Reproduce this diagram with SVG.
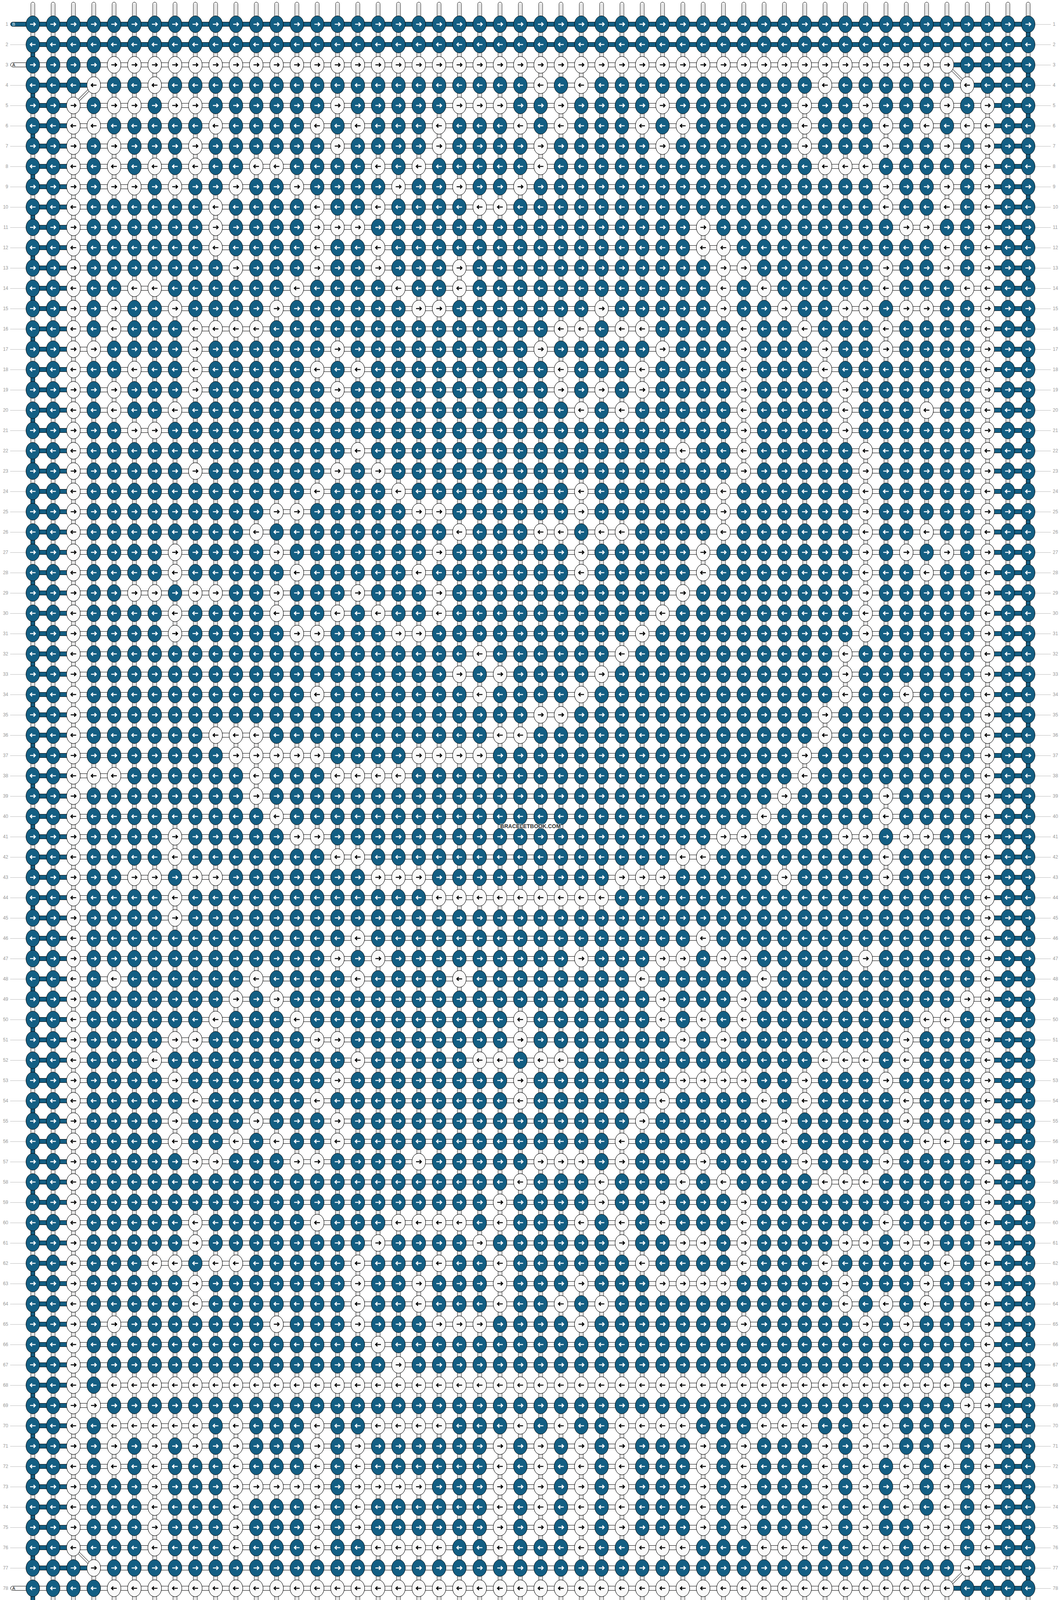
<svg xmlns="http://www.w3.org/2000/svg" width="2716" height="4180" viewBox="0 0 2716 4180">
<style>
.d{fill:#135e83;stroke:#000;stroke-width:1}
.w{fill:#fafafa;stroke:#000;stroke-width:1}
.aw{fill:none;stroke:#fff;stroke-width:2.6}
.ab{fill:none;stroke:#000;stroke-width:2.6}
.lb{font-family:"Liberation Sans",Arial,sans-serif;font-size:12px;fill:#999}
.pt{font-family:"Liberation Sans",Arial,sans-serif;font-size:11px}
</style>
<defs>
<g id="R"><ellipse rx="17.5" ry="21.5" class="w"/><path class="ab" d="M-7 0H6M2 -4.5L6.5 0L2 4.5"/></g>
<g id="L"><ellipse rx="17.5" ry="21.5" class="w"/><path class="ab" d="M7 0H-6M-2 -4.5L-6.5 0L-2 4.5"/></g>
<g id="DR"><ellipse rx="17.5" ry="21.5" class="d"/><path class="aw" d="M-7 0H6M2 -4.5L6.5 0L2 4.5"/></g>
<g id="DL"><ellipse rx="17.5" ry="21.5" class="d"/><path class="aw" d="M7 0H-6M-2 -4.5L-6.5 0L-2 4.5"/></g>
<pattern id="dk" patternUnits="userSpaceOnUse" x="58" y="36" width="52" height="104"><use href="#DR" x="26" y="26"/><use href="#DL" x="26" y="78"/></pattern>
<pattern id="wk" patternUnits="userSpaceOnUse" x="58" y="36" width="52" height="104"><use href="#R" x="26" y="26"/><use href="#L" x="26" y="78"/></pattern>
<pattern id="st" patternUnits="userSpaceOnUse" x="58" y="0" width="52" height="4180"><rect x="21" y="5.5" width="10" height="4169" rx="5" class="w"/><path d="M24.3 10V4170M27.7 10V4170" stroke="#bbb" stroke-width="1"/></pattern>
<pattern id="hb" patternUnits="userSpaceOnUse" x="0" y="36" width="2716" height="52"><rect x="84" y="20.5" width="2548" height="11" class="d"/><rect x="188" y="20.5" width="2340" height="11" class="w"/></pattern>
<pattern id="ll" patternUnits="userSpaceOnUse" x="0" y="36" width="2716" height="52"><path d="M26 26.5H66M2650 26.5H2690" stroke="#bbb" stroke-width="1"/></pattern>
</defs>
<rect width="2716" height="4180" fill="#fff"/>
<rect id="label-lines" x="0" y="36" width="2716" height="4108" fill="url(#ll)"/>
<g id="connectors">
<rect id="strands" x="58" y="0" width="2600" height="4180" fill="url(#st)"/>
<path d="M84 114V4118M2632 62V4066" stroke="#000" stroke-width="11" stroke-dasharray="52 52" fill="none"/>
<path d="M84 114V4118M2632 62V4066" stroke="#135e83" stroke-width="9" stroke-dasharray="52 52" fill="none"/>
<rect x="84" y="56.5" width="2548" height="11" class="d"/>
<rect x="84" y="108.5" width="2548" height="11" class="d"/>
<rect x="84" y="160.5" width="2548" height="11" class="d"/>
<rect x="84" y="160.5" width="2340" height="11" class="w"/>
<rect x="84" y="212.5" width="2548" height="11" class="d"/>
<rect x="240" y="212.5" width="2236" height="11" class="w"/>
<rect x="0" y="244" width="2716" height="3744" fill="url(#hb)"/>
<rect x="84" y="4008.5" width="2548" height="11" class="d"/>
<rect x="240" y="4008.5" width="2236" height="11" class="w"/>
<rect x="84" y="4060.5" width="2548" height="11" class="d"/>
<rect x="84" y="4060.5" width="2340" height="11" class="w"/>
<rect x="84" y="4112.5" width="2548" height="11" class="d"/>
<path d="M2424 166L2476 218M240 218L188 270M188 3962L240 4014M2476 4014L2424 4066" stroke="#000" stroke-width="6" fill="none"/>
<path d="M2424 166L2476 218M240 218L188 270M188 3962L240 4014M2476 4014L2424 4066" stroke="#fafafa" stroke-width="4" fill="none"/>
</g>
<g id="thread-ends">
<rect x="27" y="56.5" width="70" height="11" rx="5.5" class="d"/><text x="31.5" y="66" class="pt" fill="#fff">B</text>
<rect x="27" y="160.5" width="70" height="11" rx="5.5" class="w"/><text x="31.5" y="170" class="pt" fill="#000">A</text>
<rect x="27" y="4060.5" width="70" height="11" rx="5.5" class="w"/><text x="31.5" y="4070" class="pt" fill="#000">A</text>
<rect x="2620" y="4112.5" width="70" height="11" rx="5.5" class="d"/><text x="2678" y="4122" class="pt" fill="#fff">B</text>
</g>
<rect id="knots-dark" x="58" y="36" width="2600" height="4108" fill="url(#dk)"/>
<g id="knots-light">
<rect x="162" y="244" width="52" height="3744" fill="url(#wk)"/>
<rect x="2502" y="244" width="52" height="3744" fill="url(#wk)"/>
<rect x="266" y="140" width="2184" height="52" fill="url(#wk)"/>
<rect x="266" y="3520" width="2184" height="52" fill="url(#wk)"/>
<rect x="266" y="4040" width="2184" height="52" fill="url(#wk)"/>
<rect x="1098" y="2272" width="468" height="52" fill="url(#wk)"/>
<g id="r4" transform="translate(0 218)"><use href="#L" x="240"/><use href="#L" x="396"/><use href="#L" x="1384"/><use href="#L" x="1488"/><use href="#L" x="2112"/><use href="#L" x="2476"/></g>
<g id="r5" transform="translate(0 270)"><use href="#R" x="292"/><use href="#R" x="344"/><use href="#R" x="448"/><use href="#R" x="500"/><use href="#R" x="864"/><use href="#R" x="1176"/><use href="#R" x="1228"/><use href="#R" x="1280"/><use href="#R" x="1436"/><use href="#R" x="1696"/><use href="#R" x="2060"/><use href="#R" x="2216"/><use href="#R" x="2424"/></g>
<g id="r6" transform="translate(0 322)"><use href="#L" x="240"/><use href="#L" x="552"/><use href="#L" x="812"/><use href="#L" x="916"/><use href="#L" x="1124"/><use href="#L" x="1332"/><use href="#L" x="1436"/><use href="#L" x="1644"/><use href="#L" x="1748"/><use href="#L" x="2060"/><use href="#L" x="2268"/><use href="#L" x="2372"/><use href="#L" x="2476"/></g>
<g id="r7" transform="translate(0 374)"><use href="#R" x="292"/><use href="#R" x="500"/><use href="#R" x="864"/><use href="#R" x="1124"/><use href="#R" x="1384"/><use href="#R" x="1696"/><use href="#R" x="2060"/><use href="#R" x="2268"/><use href="#R" x="2424"/></g>
<g id="r8" transform="translate(0 426)"><use href="#L" x="292"/><use href="#L" x="396"/><use href="#L" x="500"/><use href="#L" x="656"/><use href="#L" x="708"/><use href="#L" x="968"/><use href="#L" x="1072"/><use href="#L" x="1384"/><use href="#L" x="2112"/><use href="#L" x="2164"/><use href="#L" x="2216"/></g>
<g id="r9" transform="translate(0 478)"><use href="#R" x="292"/><use href="#R" x="344"/><use href="#R" x="448"/><use href="#R" x="604"/><use href="#R" x="760"/><use href="#R" x="1020"/><use href="#R" x="1176"/><use href="#R" x="1332"/><use href="#R" x="2268"/><use href="#R" x="2424"/></g>
<g id="r10" transform="translate(0 530)"><use href="#L" x="552"/><use href="#L" x="812"/><use href="#L" x="968"/><use href="#L" x="1228"/><use href="#L" x="1280"/><use href="#L" x="2268"/><use href="#L" x="2424"/></g>
<g id="r11" transform="translate(0 582)"><use href="#R" x="552"/><use href="#R" x="812"/><use href="#R" x="864"/><use href="#R" x="916"/><use href="#R" x="1800"/><use href="#R" x="2320"/><use href="#R" x="2372"/></g>
<g id="r12" transform="translate(0 634)"><use href="#L" x="552"/><use href="#L" x="812"/><use href="#L" x="968"/><use href="#L" x="1800"/><use href="#L" x="1852"/><use href="#L" x="2424"/></g>
<g id="r13" transform="translate(0 686)"><use href="#R" x="604"/><use href="#R" x="812"/><use href="#R" x="968"/><use href="#R" x="1176"/><use href="#R" x="1852"/><use href="#R" x="1904"/><use href="#R" x="2268"/><use href="#R" x="2424"/></g>
<g id="r14" transform="translate(0 738)"><use href="#L" x="344"/><use href="#L" x="396"/><use href="#L" x="760"/><use href="#L" x="1020"/><use href="#L" x="1176"/><use href="#L" x="1852"/><use href="#L" x="1956"/><use href="#L" x="2268"/><use href="#L" x="2476"/></g>
<g id="r15" transform="translate(0 790)"><use href="#R" x="292"/><use href="#R" x="448"/><use href="#R" x="708"/><use href="#R" x="1072"/><use href="#R" x="1124"/><use href="#R" x="1540"/><use href="#R" x="1852"/><use href="#R" x="2008"/><use href="#R" x="2164"/><use href="#R" x="2216"/><use href="#R" x="2320"/><use href="#R" x="2372"/></g>
<g id="r16" transform="translate(0 842)"><use href="#L" x="292"/><use href="#L" x="500"/><use href="#L" x="552"/><use href="#L" x="604"/><use href="#L" x="656"/><use href="#L" x="1436"/><use href="#L" x="1488"/><use href="#L" x="1592"/><use href="#L" x="1644"/><use href="#L" x="1904"/><use href="#L" x="2060"/><use href="#L" x="2268"/></g>
<g id="r17" transform="translate(0 894)"><use href="#R" x="240"/><use href="#R" x="500"/><use href="#R" x="864"/><use href="#R" x="1384"/><use href="#R" x="1696"/><use href="#R" x="1904"/><use href="#R" x="2112"/><use href="#R" x="2268"/></g>
<g id="r18" transform="translate(0 946)"><use href="#L" x="344"/><use href="#L" x="500"/><use href="#L" x="812"/><use href="#L" x="916"/><use href="#L" x="1436"/><use href="#L" x="1644"/><use href="#L" x="1904"/><use href="#L" x="2112"/></g>
<g id="r19" transform="translate(0 998)"><use href="#R" x="292"/><use href="#R" x="500"/><use href="#R" x="864"/><use href="#R" x="1436"/><use href="#R" x="1540"/><use href="#R" x="1644"/><use href="#R" x="1904"/><use href="#R" x="2164"/></g>
<g id="r20" transform="translate(0 1050)"><use href="#L" x="292"/><use href="#L" x="448"/><use href="#L" x="1488"/><use href="#L" x="1592"/><use href="#L" x="1904"/><use href="#L" x="2164"/><use href="#L" x="2372"/></g>
<g id="r21" transform="translate(0 1102)"><use href="#R" x="344"/><use href="#R" x="396"/><use href="#R" x="1904"/><use href="#R" x="2164"/></g>
<g id="r22" transform="translate(0 1154)"><use href="#L" x="916"/><use href="#L" x="1748"/><use href="#L" x="1904"/><use href="#L" x="2216"/></g>
<g id="r23" transform="translate(0 1206)"><use href="#R" x="500"/><use href="#R" x="864"/><use href="#R" x="968"/><use href="#R" x="1904"/><use href="#R" x="2216"/></g>
<g id="r24" transform="translate(0 1258)"><use href="#L" x="812"/><use href="#L" x="1020"/><use href="#L" x="1488"/><use href="#L" x="1852"/><use href="#L" x="2216"/></g>
<g id="r25" transform="translate(0 1310)"><use href="#R" x="708"/><use href="#R" x="760"/><use href="#R" x="1072"/><use href="#R" x="1124"/><use href="#R" x="1488"/><use href="#R" x="1852"/><use href="#R" x="2216"/></g>
<g id="r26" transform="translate(0 1362)"><use href="#L" x="656"/><use href="#L" x="1176"/><use href="#L" x="1384"/><use href="#L" x="1436"/><use href="#L" x="1540"/><use href="#L" x="1592"/><use href="#L" x="1852"/><use href="#L" x="2216"/><use href="#L" x="2372"/></g>
<g id="r27" transform="translate(0 1414)"><use href="#R" x="448"/><use href="#R" x="708"/><use href="#R" x="1124"/><use href="#R" x="1488"/><use href="#R" x="1800"/><use href="#R" x="2216"/><use href="#R" x="2320"/><use href="#R" x="2424"/></g>
<g id="r28" transform="translate(0 1466)"><use href="#L" x="448"/><use href="#L" x="760"/><use href="#L" x="1072"/><use href="#L" x="1488"/><use href="#L" x="1800"/><use href="#L" x="2216"/><use href="#L" x="2372"/></g>
<g id="r29" transform="translate(0 1518)"><use href="#R" x="344"/><use href="#R" x="396"/><use href="#R" x="500"/><use href="#R" x="552"/><use href="#R" x="708"/><use href="#R" x="916"/><use href="#R" x="1124"/><use href="#R" x="1748"/><use href="#R" x="2216"/></g>
<g id="r30" transform="translate(0 1570)"><use href="#L" x="448"/><use href="#L" x="708"/><use href="#L" x="864"/><use href="#L" x="968"/><use href="#L" x="1124"/><use href="#L" x="1696"/><use href="#L" x="2216"/></g>
<g id="r31" transform="translate(0 1622)"><use href="#R" x="448"/><use href="#R" x="760"/><use href="#R" x="812"/><use href="#R" x="1020"/><use href="#R" x="1072"/><use href="#R" x="1644"/><use href="#R" x="2216"/></g>
<g id="r32" transform="translate(0 1674)"><use href="#L" x="1228"/><use href="#L" x="1592"/><use href="#L" x="2164"/></g>
<g id="r33" transform="translate(0 1726)"><use href="#R" x="1176"/><use href="#R" x="1280"/><use href="#R" x="1540"/><use href="#R" x="2164"/></g>
<g id="r34" transform="translate(0 1778)"><use href="#L" x="812"/><use href="#L" x="1228"/><use href="#L" x="1488"/><use href="#L" x="2164"/><use href="#L" x="2320"/></g>
<g id="r35" transform="translate(0 1830)"><use href="#R" x="1384"/><use href="#R" x="1436"/><use href="#R" x="2112"/></g>
<g id="r36" transform="translate(0 1882)"><use href="#L" x="552"/><use href="#L" x="604"/><use href="#L" x="656"/><use href="#L" x="1280"/><use href="#L" x="1332"/><use href="#L" x="2112"/></g>
<g id="r37" transform="translate(0 1934)"><use href="#R" x="604"/><use href="#R" x="656"/><use href="#R" x="708"/><use href="#R" x="760"/><use href="#R" x="812"/><use href="#R" x="1072"/><use href="#R" x="1124"/><use href="#R" x="1176"/><use href="#R" x="1228"/><use href="#R" x="2060"/></g>
<g id="r38" transform="translate(0 1986)"><use href="#L" x="240"/><use href="#L" x="292"/><use href="#L" x="656"/><use href="#L" x="864"/><use href="#L" x="916"/><use href="#L" x="968"/><use href="#L" x="1020"/><use href="#L" x="2060"/></g>
<g id="r39" transform="translate(0 2038)"><use href="#R" x="656"/><use href="#R" x="2008"/><use href="#R" x="2268"/></g>
<g id="r40" transform="translate(0 2090)"><use href="#L" x="708"/><use href="#L" x="1956"/><use href="#L" x="2268"/></g>
<g id="r41" transform="translate(0 2142)"><use href="#R" x="448"/><use href="#R" x="760"/><use href="#R" x="812"/><use href="#R" x="1852"/><use href="#R" x="1904"/><use href="#R" x="2164"/><use href="#R" x="2216"/><use href="#R" x="2320"/><use href="#R" x="2372"/></g>
<g id="r42" transform="translate(0 2194)"><use href="#L" x="448"/><use href="#L" x="864"/><use href="#L" x="916"/><use href="#L" x="1748"/><use href="#L" x="1800"/><use href="#L" x="2268"/></g>
<g id="r43" transform="translate(0 2246)"><use href="#R" x="344"/><use href="#R" x="396"/><use href="#R" x="500"/><use href="#R" x="552"/><use href="#R" x="968"/><use href="#R" x="1020"/><use href="#R" x="1072"/><use href="#R" x="1592"/><use href="#R" x="1644"/><use href="#R" x="1696"/><use href="#R" x="2008"/><use href="#R" x="2268"/></g>
<g id="r44" transform="translate(0 2298)"><use href="#L" x="448"/></g>
<g id="r45" transform="translate(0 2350)"><use href="#R" x="448"/></g>
<g id="r46" transform="translate(0 2402)"><use href="#L" x="916"/><use href="#L" x="1800"/></g>
<g id="r47" transform="translate(0 2454)"><use href="#R" x="864"/><use href="#R" x="968"/><use href="#R" x="1488"/><use href="#R" x="1696"/><use href="#R" x="1748"/><use href="#R" x="1852"/><use href="#R" x="1904"/><use href="#R" x="2216"/></g>
<g id="r48" transform="translate(0 2506)"><use href="#L" x="292"/><use href="#L" x="656"/><use href="#L" x="916"/><use href="#L" x="1176"/><use href="#L" x="1644"/><use href="#L" x="1956"/></g>
<g id="r49" transform="translate(0 2558)"><use href="#R" x="604"/><use href="#R" x="708"/><use href="#R" x="1696"/><use href="#R" x="1904"/><use href="#R" x="2476"/></g>
<g id="r50" transform="translate(0 2610)"><use href="#L" x="552"/><use href="#L" x="760"/><use href="#L" x="1332"/><use href="#L" x="1696"/><use href="#L" x="1800"/><use href="#L" x="1904"/><use href="#L" x="2372"/><use href="#L" x="2424"/></g>
<g id="r51" transform="translate(0 2662)"><use href="#R" x="448"/><use href="#R" x="500"/><use href="#R" x="812"/><use href="#R" x="864"/><use href="#R" x="1332"/><use href="#R" x="1748"/><use href="#R" x="1852"/><use href="#R" x="2320"/></g>
<g id="r52" transform="translate(0 2714)"><use href="#L" x="396"/><use href="#L" x="916"/><use href="#L" x="1228"/><use href="#L" x="1280"/><use href="#L" x="1384"/><use href="#L" x="1436"/><use href="#L" x="2112"/><use href="#L" x="2164"/><use href="#L" x="2216"/><use href="#L" x="2320"/></g>
<g id="r53" transform="translate(0 2766)"><use href="#R" x="448"/><use href="#R" x="864"/><use href="#R" x="1332"/><use href="#R" x="1748"/><use href="#R" x="1800"/><use href="#R" x="1852"/><use href="#R" x="1904"/><use href="#R" x="2060"/><use href="#R" x="2268"/></g>
<g id="r54" transform="translate(0 2818)"><use href="#L" x="500"/><use href="#L" x="812"/><use href="#L" x="1332"/><use href="#L" x="1696"/><use href="#L" x="1956"/><use href="#L" x="2060"/><use href="#L" x="2320"/></g>
<g id="r55" transform="translate(0 2870)"><use href="#R" x="448"/><use href="#R" x="656"/><use href="#R" x="864"/><use href="#R" x="1644"/><use href="#R" x="2008"/><use href="#R" x="2320"/></g>
<g id="r56" transform="translate(0 2922)"><use href="#L" x="448"/><use href="#L" x="604"/><use href="#L" x="708"/><use href="#L" x="864"/><use href="#L" x="1592"/><use href="#L" x="2008"/><use href="#L" x="2372"/><use href="#L" x="2424"/></g>
<g id="r57" transform="translate(0 2974)"><use href="#R" x="500"/><use href="#R" x="552"/><use href="#R" x="760"/><use href="#R" x="812"/><use href="#R" x="1072"/><use href="#R" x="1384"/><use href="#R" x="1436"/><use href="#R" x="1488"/><use href="#R" x="1592"/><use href="#R" x="1800"/><use href="#R" x="2060"/><use href="#R" x="2268"/></g>
<g id="r58" transform="translate(0 3026)"><use href="#L" x="1332"/><use href="#L" x="1540"/><use href="#L" x="1748"/><use href="#L" x="1852"/><use href="#L" x="2112"/><use href="#L" x="2164"/><use href="#L" x="2216"/></g>
<g id="r59" transform="translate(0 3078)"><use href="#R" x="1280"/><use href="#R" x="1540"/><use href="#R" x="1696"/><use href="#R" x="1904"/></g>
<g id="r60" transform="translate(0 3130)"><use href="#L" x="500"/><use href="#L" x="812"/><use href="#L" x="1020"/><use href="#L" x="1072"/><use href="#L" x="1124"/><use href="#L" x="1176"/><use href="#L" x="1280"/><use href="#L" x="1488"/><use href="#L" x="1592"/><use href="#L" x="1696"/><use href="#L" x="1904"/><use href="#L" x="2268"/></g>
<g id="r61" transform="translate(0 3182)"><use href="#R" x="500"/><use href="#R" x="968"/><use href="#R" x="1228"/><use href="#R" x="1592"/><use href="#R" x="1748"/><use href="#R" x="1800"/><use href="#R" x="1904"/><use href="#R" x="2164"/><use href="#R" x="2216"/><use href="#R" x="2320"/><use href="#R" x="2372"/></g>
<g id="r62" transform="translate(0 3234)"><use href="#L" x="396"/><use href="#L" x="448"/><use href="#L" x="552"/><use href="#L" x="604"/><use href="#L" x="916"/><use href="#L" x="1124"/><use href="#L" x="1280"/><use href="#L" x="1644"/><use href="#L" x="1904"/><use href="#L" x="2112"/><use href="#L" x="2424"/></g>
<g id="r63" transform="translate(0 3286)"><use href="#R" x="500"/><use href="#R" x="916"/><use href="#R" x="1072"/><use href="#R" x="1280"/><use href="#R" x="1488"/><use href="#R" x="1696"/><use href="#R" x="1748"/><use href="#R" x="1800"/><use href="#R" x="1852"/><use href="#R" x="2164"/><use href="#R" x="2372"/></g>
<g id="r64" transform="translate(0 3338)"><use href="#L" x="500"/><use href="#L" x="916"/><use href="#L" x="1072"/><use href="#L" x="1280"/><use href="#L" x="1436"/><use href="#L" x="1540"/><use href="#L" x="2164"/><use href="#L" x="2268"/><use href="#L" x="2372"/></g>
<g id="r65" transform="translate(0 3390)"><use href="#R" x="292"/><use href="#R" x="708"/><use href="#R" x="916"/><use href="#R" x="1124"/><use href="#R" x="1176"/><use href="#R" x="1228"/><use href="#R" x="1488"/><use href="#R" x="1904"/><use href="#R" x="2216"/><use href="#R" x="2320"/></g>
<g id="r66" transform="translate(0 3442)"><use href="#L" x="968"/></g>
<g id="r67" transform="translate(0 3494)"><use href="#R" x="1020"/></g>
<g id="r69" transform="translate(0 3598)"><use href="#R" x="240"/><use href="#R" x="2476"/></g>
<g id="r70" transform="translate(0 3650)"><use href="#L" x="292"/><use href="#L" x="344"/><use href="#L" x="396"/><use href="#L" x="448"/><use href="#L" x="500"/><use href="#L" x="604"/><use href="#L" x="812"/><use href="#L" x="968"/><use href="#L" x="1020"/><use href="#L" x="1072"/><use href="#L" x="1124"/><use href="#L" x="1332"/><use href="#L" x="1436"/><use href="#L" x="1592"/><use href="#L" x="1644"/><use href="#L" x="1696"/><use href="#L" x="1748"/><use href="#L" x="1956"/><use href="#L" x="2008"/><use href="#L" x="2060"/><use href="#L" x="2216"/><use href="#L" x="2268"/></g>
<g id="r71" transform="translate(0 3702)"><use href="#R" x="292"/><use href="#R" x="396"/><use href="#R" x="500"/><use href="#R" x="604"/><use href="#R" x="812"/><use href="#R" x="916"/><use href="#R" x="1280"/><use href="#R" x="1384"/><use href="#R" x="1488"/><use href="#R" x="1592"/><use href="#R" x="1800"/><use href="#R" x="1904"/><use href="#R" x="2112"/><use href="#R" x="2216"/><use href="#R" x="2268"/><use href="#R" x="2424"/></g>
<g id="r72" transform="translate(0 3754)"><use href="#L" x="292"/><use href="#L" x="396"/><use href="#L" x="604"/><use href="#L" x="812"/><use href="#L" x="916"/><use href="#L" x="1280"/><use href="#L" x="1384"/><use href="#L" x="1488"/><use href="#L" x="1592"/><use href="#L" x="1800"/><use href="#L" x="1904"/><use href="#L" x="2112"/><use href="#L" x="2216"/><use href="#L" x="2320"/><use href="#L" x="2424"/></g>
<g id="r73" transform="translate(0 3806)"><use href="#R" x="396"/><use href="#R" x="604"/><use href="#R" x="656"/><use href="#R" x="708"/><use href="#R" x="760"/><use href="#R" x="812"/><use href="#R" x="916"/><use href="#R" x="968"/><use href="#R" x="1020"/><use href="#R" x="1072"/><use href="#R" x="1280"/><use href="#R" x="1384"/><use href="#R" x="1488"/><use href="#R" x="1592"/><use href="#R" x="1800"/><use href="#R" x="1904"/><use href="#R" x="2112"/><use href="#R" x="2216"/><use href="#R" x="2320"/><use href="#R" x="2424"/></g>
<g id="r74" transform="translate(0 3858)"><use href="#L" x="396"/><use href="#L" x="604"/><use href="#L" x="812"/><use href="#L" x="916"/><use href="#L" x="1280"/><use href="#L" x="1384"/><use href="#L" x="1488"/><use href="#L" x="1592"/><use href="#L" x="1800"/><use href="#L" x="1904"/><use href="#L" x="2112"/><use href="#L" x="2216"/><use href="#L" x="2320"/><use href="#L" x="2424"/></g>
<g id="r75" transform="translate(0 3910)"><use href="#R" x="396"/><use href="#R" x="604"/><use href="#R" x="812"/><use href="#R" x="916"/><use href="#R" x="1280"/><use href="#R" x="1384"/><use href="#R" x="1488"/><use href="#R" x="1592"/><use href="#R" x="1800"/><use href="#R" x="1904"/><use href="#R" x="2112"/><use href="#R" x="2216"/><use href="#R" x="2372"/><use href="#R" x="2424"/></g>
<g id="r76" transform="translate(0 3962)"><use href="#L" x="396"/><use href="#L" x="604"/><use href="#L" x="812"/><use href="#L" x="968"/><use href="#L" x="1020"/><use href="#L" x="1072"/><use href="#L" x="1124"/><use href="#L" x="1280"/><use href="#L" x="1488"/><use href="#L" x="1644"/><use href="#L" x="1696"/><use href="#L" x="1748"/><use href="#L" x="1956"/><use href="#L" x="2008"/><use href="#L" x="2060"/><use href="#L" x="2216"/><use href="#L" x="2268"/><use href="#L" x="2372"/><use href="#L" x="2424"/></g>
<g id="r77" transform="translate(0 4014)"><use href="#R" x="240"/><use href="#R" x="2476"/></g>
</g>
<g id="row-numbers-left" class="lb" text-anchor="end">
<text x="21" y="66">1</text><text x="21" y="118">2</text><text x="21" y="170">3</text><text x="21" y="222">4</text><text x="21" y="274">5</text><text x="21" y="326">6</text><text x="21" y="378">7</text><text x="21" y="430">8</text><text x="21" y="482">9</text><text x="21" y="534">10</text><text x="21" y="586">11</text><text x="21" y="638">12</text><text x="21" y="690">13</text><text x="21" y="742">14</text><text x="21" y="794">15</text><text x="21" y="846">16</text><text x="21" y="898">17</text><text x="21" y="950">18</text><text x="21" y="1002">19</text><text x="21" y="1054">20</text><text x="21" y="1106">21</text><text x="21" y="1158">22</text><text x="21" y="1210">23</text><text x="21" y="1262">24</text><text x="21" y="1314">25</text><text x="21" y="1366">26</text><text x="21" y="1418">27</text><text x="21" y="1470">28</text><text x="21" y="1522">29</text><text x="21" y="1574">30</text><text x="21" y="1626">31</text><text x="21" y="1678">32</text><text x="21" y="1730">33</text><text x="21" y="1782">34</text><text x="21" y="1834">35</text><text x="21" y="1886">36</text><text x="21" y="1938">37</text><text x="21" y="1990">38</text><text x="21" y="2042">39</text><text x="21" y="2094">40</text><text x="21" y="2146">41</text><text x="21" y="2198">42</text><text x="21" y="2250">43</text><text x="21" y="2302">44</text><text x="21" y="2354">45</text><text x="21" y="2406">46</text><text x="21" y="2458">47</text><text x="21" y="2510">48</text><text x="21" y="2562">49</text><text x="21" y="2614">50</text><text x="21" y="2666">51</text><text x="21" y="2718">52</text><text x="21" y="2770">53</text><text x="21" y="2822">54</text><text x="21" y="2874">55</text><text x="21" y="2926">56</text><text x="21" y="2978">57</text><text x="21" y="3030">58</text><text x="21" y="3082">59</text><text x="21" y="3134">60</text><text x="21" y="3186">61</text><text x="21" y="3238">62</text><text x="21" y="3290">63</text><text x="21" y="3342">64</text><text x="21" y="3394">65</text><text x="21" y="3446">66</text><text x="21" y="3498">67</text><text x="21" y="3550">68</text><text x="21" y="3602">69</text><text x="21" y="3654">70</text><text x="21" y="3706">71</text><text x="21" y="3758">72</text><text x="21" y="3810">73</text><text x="21" y="3862">74</text><text x="21" y="3914">75</text><text x="21" y="3966">76</text><text x="21" y="4018">77</text><text x="21" y="4070">78</text><text x="21" y="4122">79</text>
</g>
<g id="row-numbers-right" class="lb">
<text x="2695" y="66">1</text><text x="2695" y="118">2</text><text x="2695" y="170">3</text><text x="2695" y="222">4</text><text x="2695" y="274">5</text><text x="2695" y="326">6</text><text x="2695" y="378">7</text><text x="2695" y="430">8</text><text x="2695" y="482">9</text><text x="2695" y="534">10</text><text x="2695" y="586">11</text><text x="2695" y="638">12</text><text x="2695" y="690">13</text><text x="2695" y="742">14</text><text x="2695" y="794">15</text><text x="2695" y="846">16</text><text x="2695" y="898">17</text><text x="2695" y="950">18</text><text x="2695" y="1002">19</text><text x="2695" y="1054">20</text><text x="2695" y="1106">21</text><text x="2695" y="1158">22</text><text x="2695" y="1210">23</text><text x="2695" y="1262">24</text><text x="2695" y="1314">25</text><text x="2695" y="1366">26</text><text x="2695" y="1418">27</text><text x="2695" y="1470">28</text><text x="2695" y="1522">29</text><text x="2695" y="1574">30</text><text x="2695" y="1626">31</text><text x="2695" y="1678">32</text><text x="2695" y="1730">33</text><text x="2695" y="1782">34</text><text x="2695" y="1834">35</text><text x="2695" y="1886">36</text><text x="2695" y="1938">37</text><text x="2695" y="1990">38</text><text x="2695" y="2042">39</text><text x="2695" y="2094">40</text><text x="2695" y="2146">41</text><text x="2695" y="2198">42</text><text x="2695" y="2250">43</text><text x="2695" y="2302">44</text><text x="2695" y="2354">45</text><text x="2695" y="2406">46</text><text x="2695" y="2458">47</text><text x="2695" y="2510">48</text><text x="2695" y="2562">49</text><text x="2695" y="2614">50</text><text x="2695" y="2666">51</text><text x="2695" y="2718">52</text><text x="2695" y="2770">53</text><text x="2695" y="2822">54</text><text x="2695" y="2874">55</text><text x="2695" y="2926">56</text><text x="2695" y="2978">57</text><text x="2695" y="3030">58</text><text x="2695" y="3082">59</text><text x="2695" y="3134">60</text><text x="2695" y="3186">61</text><text x="2695" y="3238">62</text><text x="2695" y="3290">63</text><text x="2695" y="3342">64</text><text x="2695" y="3394">65</text><text x="2695" y="3446">66</text><text x="2695" y="3498">67</text><text x="2695" y="3550">68</text><text x="2695" y="3602">69</text><text x="2695" y="3654">70</text><text x="2695" y="3706">71</text><text x="2695" y="3758">72</text><text x="2695" y="3810">73</text><text x="2695" y="3862">74</text><text x="2695" y="3914">75</text><text x="2695" y="3966">76</text><text x="2695" y="4018">77</text><text x="2695" y="4070">78</text><text x="2695" y="4122">79</text>
</g>
<text id="watermark" x="1358" y="2120" text-anchor="middle" font-family="Liberation Sans,Arial,sans-serif" font-weight="bold" font-size="14" fill="#333" stroke="#fff" stroke-opacity="0.6" stroke-width="3" paint-order="stroke">BRACELETBOOK.COM</text>
</svg>
